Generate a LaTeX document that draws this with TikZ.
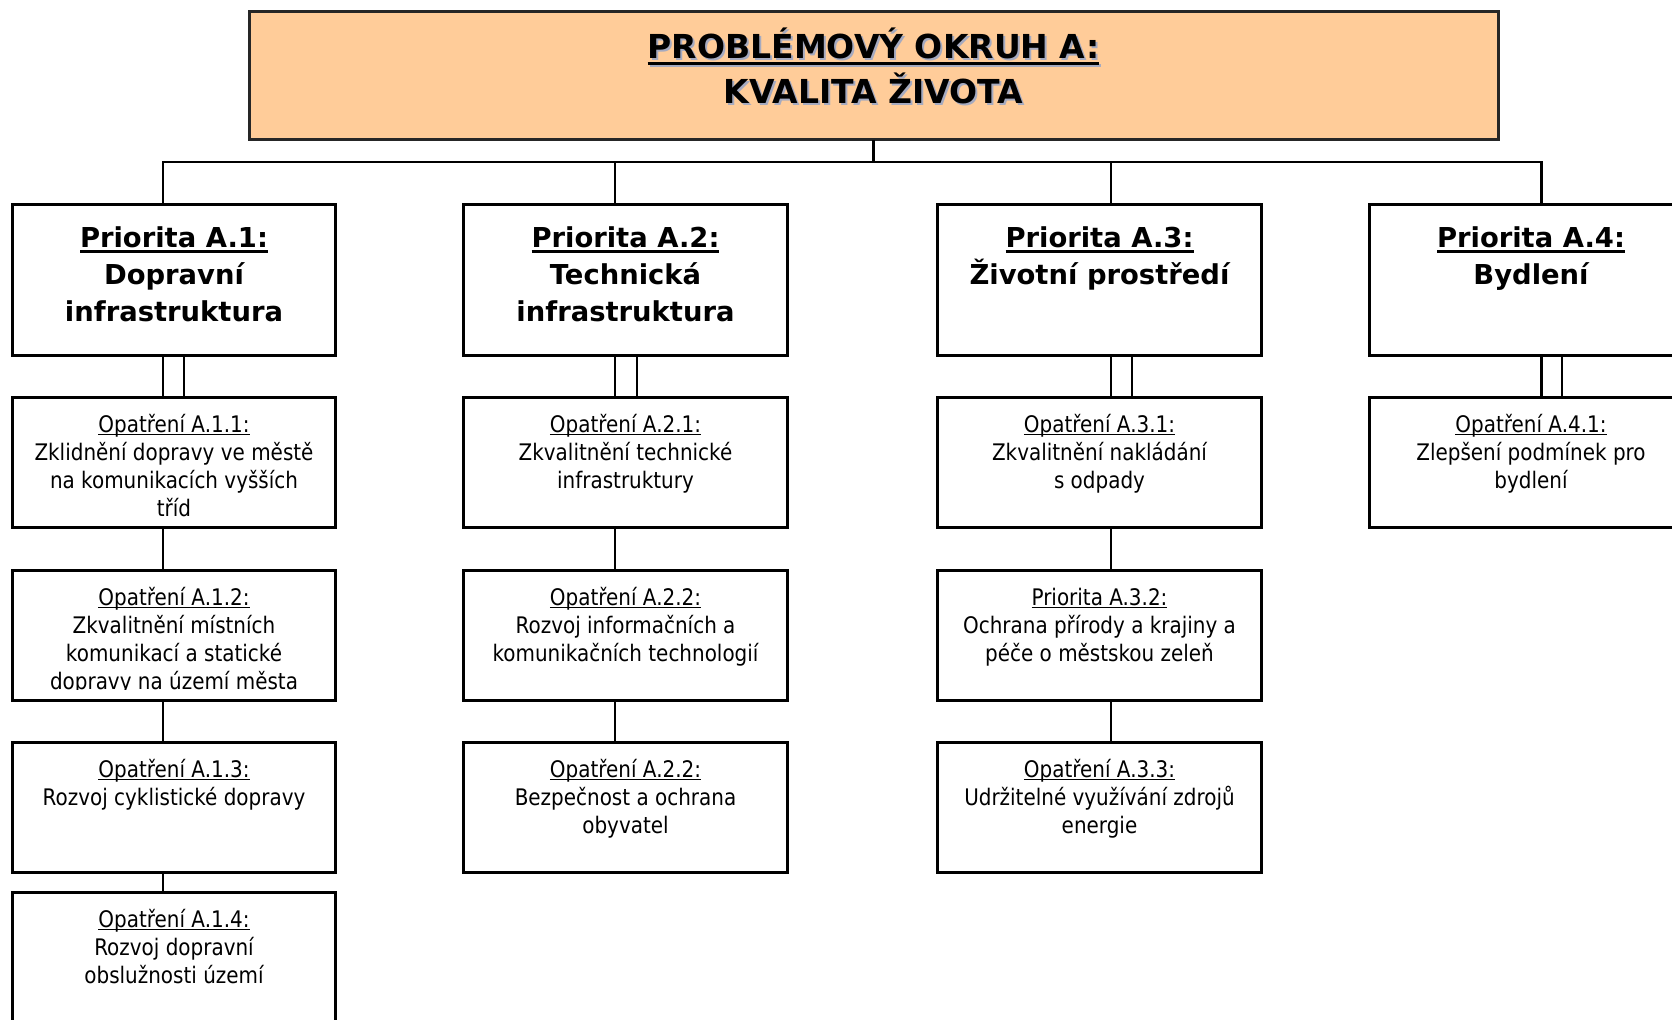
\documentclass[tikz,border=0pt]{standalone}
\usepackage{fontspec}
\newfontfamily\regfont{DejaVu Sans}[FakeStretch=0.875]
\newfontfamily\hdfont{DejaVu Sans}
\definecolor{peach}{HTML}{FFCC99}
\definecolor{tshadow}{RGB}{165,170,192}
\newsavebox\ulbox
\newcommand\myul[3]{\sbox\ulbox{#1}\rlap{\rule[-#2]{\wd\ulbox}{#3}}\usebox\ulbox}
\newcommand\ulo[1]{\myul{#1}{1pt}{0.65pt}}
\newcommand\ulp[1]{\myul{#1}{2.75pt}{1.6pt}}
\newcommand\ult[1]{\myul{#1}{3.5pt}{1.7pt}}
\tikzset{
  box/.style={draw=black, line width=1.5pt, fill=white, inner sep=0pt, outer sep=0pt, minimum width=161.75pt},
  pbox/.style={box, minimum height=75.5pt},
  obox/.style={box, minimum height=65pt},
  ttext/.style={anchor=north, inner sep=0pt, align=center, font=\hdfont\bfseries\fontsize{16.5}{21.35}\selectfont},
  ptext/.style={anchor=north, inner sep=0pt, align=center, font=\hdfont\bfseries\fontsize{13.7}{18.5}\selectfont},
  otext/.style={anchor=north, inner sep=0pt, align=center, font=\regfont\fontsize{11.4}{14}\selectfont},
  conn/.style={draw=black, line width=1.1pt}
}
\begin{document}
\begin{tikzpicture}[x=0.5pt,y=-0.5pt]
\useasboundingbox (0,0) rectangle (1672,1020);
\clip (0,0) rectangle (1672,1020);
% title
\node[draw=black!85, line width=1.5pt, fill=peach, minimum width=624.5pt, minimum height=64pt, inner sep=0pt, outer sep=0pt] (title) at (873.5,76) {};
\node[ttext, text=tshadow] (tshad) at ([xshift=1pt,yshift=-8.74pt]title.north) {\strut\ult{PROBLÉMOVÝ OKRUH A:}\\KVALITA ŽIVOTA};
\node[ttext] (ttxt) at ([yshift=-7.74pt]title.north) {\strut\ult{PROBLÉMOVÝ OKRUH A:}\\KVALITA ŽIVOTA};
% priority boxes
\node[pbox] (p1) at (174,280.5) {};
\node[pbox] (p2) at (625.5,280.5) {};
\node[pbox] (p3) at (1099.5,280.5) {};
\node[pbox] (p4) at (1531,280.5) {};
% measure boxes
\node[obox] (o11) at (174,463) {};
\node[obox] (o12) at (174,636) {};
\node[obox] (o13) at (174,808) {};
\node[obox] (o14) at (174,958) {};
\node[obox] (o21) at (625.5,463) {};
\node[obox] (o22) at (625.5,636) {};
\node[obox] (o23) at (625.5,808) {};
\node[obox] (o31) at (1099.5,463) {};
\node[obox] (o32) at (1099.5,636) {};
\node[obox] (o33) at (1099.5,808) {};
\node[obox] (o41) at (1531,463) {};
\coordinate (busy) at (0,162);
% connectors
\draw[conn] ([xshift=-5.5pt]p1.north) |- ([xshift=5.25pt]p4.north |- busy) -- ([xshift=5.25pt]p4.north);
\draw[conn] (title.south) -- (title.south |- busy);
\draw[conn] ([xshift=-5.25pt]p2.north) -- ([xshift=-5.25pt]p2.north |- busy);
\draw[conn] ([xshift=5.75pt]p3.north) -- ([xshift=5.75pt]p3.north |- busy);
% double links
\draw[conn] ([xshift=-5.5pt]p1.south) -- ([xshift=-5.5pt]o11.north);
\draw[conn] ([xshift=5pt]p1.south) -- ([xshift=5pt]o11.north);
\draw[conn] ([xshift=-5.25pt]p2.south) -- ([xshift=-5.25pt]o21.north);
\draw[conn] ([xshift=5.75pt]p2.south) -- ([xshift=5.75pt]o21.north);
\draw[conn] ([xshift=5.75pt]p3.south) -- ([xshift=5.75pt]o31.north);
\draw[conn] ([xshift=16.25pt]p3.south) -- ([xshift=16.25pt]o31.north);
\draw[conn] ([xshift=5.25pt]p4.south) -- ([xshift=5.25pt]o41.north);
\draw[conn] ([xshift=15.5pt]p4.south) -- ([xshift=15.5pt]o41.north);
% chains
\draw[conn] ([xshift=-5.5pt]o11.south) -- ([xshift=-5.5pt]o12.north);
\draw[conn] ([xshift=-5.5pt]o12.south) -- ([xshift=-5.5pt]o13.north);
\draw[conn] ([xshift=-5.5pt]o13.south) -- ([xshift=-5.5pt]o14.north);
\draw[conn] ([xshift=-5.25pt]o21.south) -- ([xshift=-5.25pt]o22.north);
\draw[conn] ([xshift=-5.25pt]o22.south) -- ([xshift=-5.25pt]o23.north);
\draw[conn] ([xshift=5.75pt]o31.south) -- ([xshift=5.75pt]o32.north);
\draw[conn] ([xshift=5.75pt]o32.south) -- ([xshift=5.75pt]o33.north);
% priority texts
\node[ptext] (tp1) at ([yshift=-8.05pt]p1.north) {\strut\ulp{Priorita A.1:}\\Dopravní\\infrastruktura};
\node[ptext] (tp2) at ([yshift=-8.05pt]p2.north) {\strut\ulp{Priorita A.2:}\\Technická\\infrastruktura};
\node[ptext] (tp3) at ([yshift=-8.05pt]p3.north) {\strut\ulp{Priorita A.3:}\\Životní prostředí};
\node[ptext] (tp4) at ([yshift=-8.05pt]p4.north) {\strut\ulp{Priorita A.4:}\\Bydlení};
% measure texts
\node[otext] (t11) at ([yshift=-7.45pt]o11.north) {\strut\ulo{Opatření A.1.1:}\\Zklidnění dopravy ve městě\\na komunikacích vyšších\\tříd};
\begin{scope}
\clip (12,571) rectangle (336,690);
\node[otext] (t12) at ([yshift=-7.45pt]o12.north) {\strut\ulo{Opatření A.1.2:}\\Zkvalitnění místních\\komunikací a statické\\dopravy na území města};
\end{scope}
\node[otext] (t13) at ([yshift=-7.45pt]o13.north) {\strut\ulo{Opatření A.1.3:}\\Rozvoj cyklistické dopravy};
\node[otext] (t14) at ([yshift=-7.45pt]o14.north) {\strut\ulo{Opatření A.1.4:}\\Rozvoj dopravní\\obslužnosti území};
\node[otext] (t21) at ([yshift=-7.45pt]o21.north) {\strut\ulo{Opatření A.2.1:}\\Zkvalitnění technické\\infrastruktury};
\node[otext] (t22) at ([yshift=-7.45pt]o22.north) {\strut\ulo{Opatření A.2.2:}\\Rozvoj informačních a\\komunikačních technologií};
\node[otext] (t23) at ([yshift=-7.45pt]o23.north) {\strut\ulo{Opatření A.2.2:}\\Bezpečnost a ochrana\\obyvatel};
\node[otext] (t31) at ([yshift=-7.45pt]o31.north) {\strut\ulo{Opatření A.3.1:}\\Zkvalitnění nakládání\\s odpady};
\node[otext] (t32) at ([yshift=-7.45pt]o32.north) {\strut\ulo{Priorita A.3.2:}\\Ochrana přírody a krajiny a\\péče o městskou zeleň};
\node[otext] (t33) at ([yshift=-7.45pt]o33.north) {\strut\ulo{Opatření A.3.3:}\\Udržitelné využívání zdrojů\\energie};
\node[otext] (t41) at ([yshift=-7.45pt]o41.north) {\strut\ulo{Opatření A.4.1:}\\Zlepšení podmínek pro\\bydlení};
\end{tikzpicture}
\end{document}
